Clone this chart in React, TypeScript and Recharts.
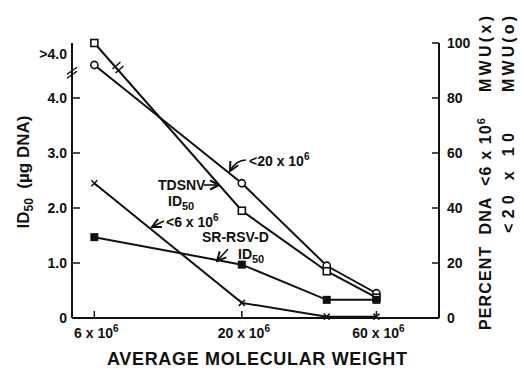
import React from "react";
import { ComposedChart, Line, XAxis, YAxis } from "recharts";

// average molecular weight, units of 10^6 (log axis)
const molWeights = [6, 20, 40, 60];
// TDSNV ID50 (ug DNA) - the first point is off scale (">4.0")
const tdsnvId50 = [5.0, 1.95, 0.85, 0.37];
// SR-RSV-D ID50 (ug DNA)
const srRsvId50 = [1.47, 0.97, 0.33, 0.33];
// percent DNA below 6 x 10^6 MWU  (x)
const pctBelow6 = [49, 5.5, 0.5, 0.5];
// percent DNA below 20 x 10^6 MWU  (o)
const pctBelow20 = [92, 49, 19, 9];

const xTicks = [6, 20, 60];
const BREAK_AT = 4.45;
const OFF_SCALE = 4.8;
const leftTicks = [0, 1, 2, 3, 4, BREAK_AT, OFF_SCALE];
const rightTicks = [0, 20, 40, 60, 80, 100];

const FONT = "'Liberation Sans', Arial, Helvetica, sans-serif";
const INK = "#111";

const XTick = ({ x, y, payload }: any) => (
  <g>
    <line x1={x} y1={y} x2={x} y2={y - 7} stroke={INK} strokeWidth={1.5} />
    <text x={x + 2} y={y + 20} textAnchor="middle" fontSize={14} fontWeight="bold" fill={INK} fontFamily={FONT}>
      {payload.value} x 10
      <tspan dy={-6} fontSize={10}>6</tspan>
    </text>
  </g>
);

const LeftTick = ({ x, y, payload }: any) => {
  const v = payload.value;
  if (v === BREAK_AT) {
    return (
      <g stroke={INK} strokeWidth={1.5}>
        <line x1={x - 5} y1={y + 1} x2={x + 5} y2={y - 6} />
        <line x1={x - 5} y1={y + 5} x2={x + 5} y2={y - 2} />
      </g>
    );
  }
  if (v === OFF_SCALE) {
    return (
      <text x={x - 5} y={y + 5} textAnchor="end" fontSize={14} fontWeight="bold" fill={INK} fontFamily={FONT}>
        {">4.0"}
      </text>
    );
  }
  return (
    <g>
      <line x1={x} y1={y} x2={x + 8} y2={y} stroke={INK} strokeWidth={1.5} />
      <text x={x - 5} y={y + 5} textAnchor="end" fontSize={14} fontWeight="bold" fill={INK} fontFamily={FONT}>
        {v === 0 ? "0" : v.toFixed(1)}
      </text>
    </g>
  );
};

const RightTick = ({ x, y, payload }: any) => (
  <g>
    <line x1={x} y1={y} x2={x - 7} y2={y} stroke={INK} strokeWidth={1.5} />
    <text x={x + 8} y={y + 5} textAnchor="start" fontSize={14} fontWeight="bold" fill={INK} fontFamily={FONT}>
      {payload.value}
    </text>
  </g>
);

// markers
const OpenSquare = (p: any) => (
  <rect key={`sq-${p.index}`} x={p.cx - 3.5} y={p.cy - 3.5} width={7} height={7} fill="#fff" stroke={INK} strokeWidth={1.6} />
);
const OpenCircle = (p: any) => (
  <circle key={`ci-${p.index}`} cx={p.cx} cy={p.cy} r={3.6} fill="#fff" stroke={INK} strokeWidth={1.6} />
);
const FilledSquare = (p: any) => (
  <rect key={`fs-${p.index}`} x={p.cx - 4} y={p.cy - 4} width={8} height={8} fill={INK} />
);
const Cross = (p: any) => (
  <g key={`x-${p.index}`} stroke={INK} strokeWidth={1.5}>
    <line x1={p.cx - 3} y1={p.cy - 3} x2={p.cx + 3} y2={p.cy + 3} />
    <line x1={p.cx - 3} y1={p.cy + 3} x2={p.cx + 3} y2={p.cy - 3} />
  </g>
);

const txt = { fontSize: 14, fontWeight: "bold" as const, fill: INK, fontFamily: FONT };

export default function App() {
  const data = molWeights.map((mw, i) => ({
    mw,
    tdsnv: tdsnvId50[i],
    srRsv: srRsvId50[i],
    below6: pctBelow6[i],
    below20: pctBelow20[i],
  }));

  return (
    <div style={{ position: "absolute", left: 0, top: 0, width: 524, height: 370, background: "#fff" }}>
      <ComposedChart width={524} height={370} data={data} margin={{ top: 43, right: 25, bottom: 22, left: 12 }}>
        <XAxis
          dataKey="mw"
          type="number"
          scale="log"
          domain={[5, 100]}
          ticks={xTicks}
          interval={0}
          allowDataOverflow
          height={30}
          tick={<XTick />}
          tickLine={false}
          tickSize={0}
          tickMargin={0}
          axisLine={{ stroke: INK, strokeWidth: 2 }}
        />
        <YAxis
          yAxisId="left"
          type="number"
          domain={[0, 5]}
          ticks={leftTicks}
          interval={0}
          width={60}
          tick={<LeftTick />}
          tickLine={false}
          tickSize={0}
          tickMargin={0}
          axisLine={{ stroke: INK, strokeWidth: 2 }}
        />
        <YAxis
          yAxisId="right"
          orientation="right"
          type="number"
          domain={[0, 100]}
          ticks={rightTicks}
          interval={0}
          width={60}
          tick={<RightTick />}
          tickLine={false}
          tickSize={0}
          tickMargin={0}
          axisLine={{ stroke: INK, strokeWidth: 2 }}
        />
        <Line yAxisId="right" dataKey="below20" type="linear" stroke={INK} strokeWidth={2} dot={OpenCircle} activeDot={false} isAnimationActive={false} />
        <Line yAxisId="left" dataKey="tdsnv" type="linear" stroke={INK} strokeWidth={2} dot={OpenSquare} activeDot={false} isAnimationActive={false} />
        <Line yAxisId="left" dataKey="srRsv" type="linear" stroke={INK} strokeWidth={2} dot={FilledSquare} activeDot={false} isAnimationActive={false} />
        <Line yAxisId="right" dataKey="below6" type="linear" stroke={INK} strokeWidth={2} dot={Cross} activeDot={false} isAnimationActive={false} />
      </ComposedChart>

      {/* titles, annotations and break marks */}
      <svg width={524} height={370} style={{ position: "absolute", left: 0, top: 0, pointerEvents: "none" }}>
        <defs>
          <marker id="arr" viewBox="0 0 10 10" refX="9" refY="5" markerWidth="7" markerHeight="7" orient="auto">
            <path d="M1,1 L9,5 L1,9" fill="none" stroke={INK} strokeWidth={1.8} />
          </marker>
        </defs>

        {/* left title */}
        <text transform="translate(29,172) rotate(-90)" textAnchor="middle" fontSize={17} fontWeight="bold" fill={INK} fontFamily={FONT} style={{ whiteSpace: "pre" }}>
          ID<tspan dy={4} fontSize={12}>50</tspan>
          <tspan dy={-4}>{"  (µg DNA)"}</tspan>
        </text>

        {/* right titles */}
        <g fontSize={16} fontWeight="bold" fill={INK} fontFamily={FONT}>
          <text transform="translate(491,330) rotate(-90)" textLength={212} lengthAdjust="spacing" style={{ whiteSpace: "pre" }}>
            {"PERCENT  DNA  <6 x 10"}
            <tspan dy={-6} fontSize={11}>6</tspan>
          </text>
          <text transform="translate(491,92) rotate(-90)" textLength={76} lengthAdjust="spacing">
            MWU(x)
          </text>
          <text transform="translate(514,233) rotate(-90)" textLength={100} lengthAdjust="spacing" style={{ whiteSpace: "pre" }}>
            {"<20 x 10"}
          </text>
          <text transform="translate(514,92) rotate(-90)" textLength={76} lengthAdjust="spacing">
            MWU(o)
          </text>
        </g>

        {/* bottom title */}
        <text x={257} y={365} textAnchor="middle" fontSize={18} fontWeight="bold" fill={INK} fontFamily={FONT} textLength={300} lengthAdjust="spacing">
          AVERAGE MOLECULAR WEIGHT
        </text>

        {/* break on the TDSNV line */}
        <g stroke={INK} strokeWidth={1.6}>
          <line x1={112.5} y1={69} x2={120.5} y2={62} />
          <line x1={115.5} y1={73} x2={123.5} y2={66} />
        </g>

        {/* annotations */}
        <text x={249} y={166} {...txt}>
          {"<20 x 10"}
          <tspan dy={-6} fontSize={10}>6</tspan>
        </text>
        <path d="M246,160 Q236,160 230,171" fill="none" stroke={INK} strokeWidth={1.6} markerEnd="url(#arr)" />

        <text x={158} y={190} {...txt}>TDSNV</text>
        <path d="M204,185 L219,185" fill="none" stroke={INK} strokeWidth={1.6} markerEnd="url(#arr)" />
        <text x={168} y={206} {...txt}>
          ID<tspan dy={4} fontSize={11}>50</tspan>
        </text>

        <text x={166} y={227} {...txt}>
          {"<6 x 10"}
          <tspan dy={-6} fontSize={10}>6</tspan>
        </text>
        <path d="M164,221 L152,227" fill="none" stroke={INK} strokeWidth={1.6} markerEnd="url(#arr)" />

        <text x={202} y={242} {...txt}>SR-RSV-D</text>
        <text x={238} y={259} {...txt}>
          ID<tspan dy={4} fontSize={11}>50</tspan>
        </text>
        <path d="M228,249 L217,261" fill="none" stroke={INK} strokeWidth={1.6} markerEnd="url(#arr)" />
      </svg>
    </div>
  );
}
